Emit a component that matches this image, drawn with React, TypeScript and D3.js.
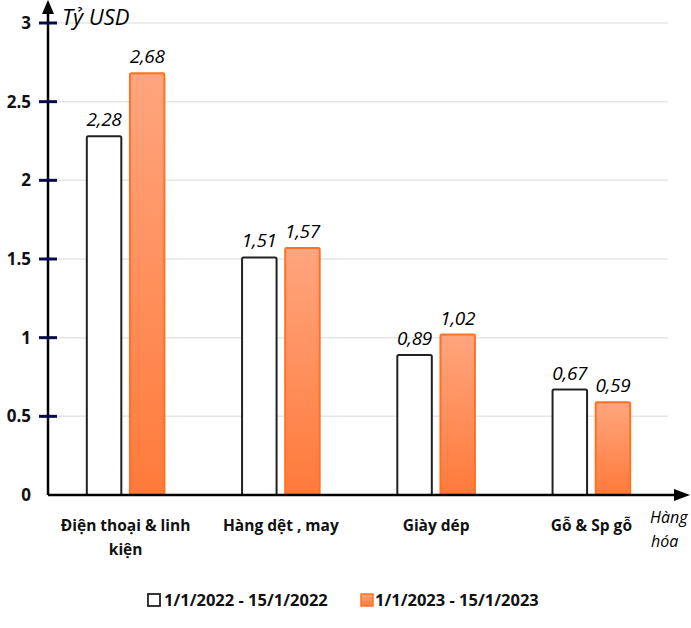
import React from "react";
import * as d3 from "d3";

const categories = ["Điện thoại & linh kiện", "Hàng dệt , may", "Giày dép", "Gỗ & Sp gỗ"];
const categoryLines = [["Điện thoại & linh", "kiện"], ["Hàng dệt , may"], ["Giày dép"], ["Gỗ & Sp gỗ"]];
const series2022 = [2.28, 1.51, 0.89, 0.67];
const series2023 = [2.68, 1.57, 1.02, 0.59];
const valueLabels2022 = ["2,28", "1,51", "0,89", "0,67"];
const valueLabels2023 = ["2,68", "1,57", "1,02", "0,59"];
const yTicks = [0, 0.5, 1, 1.5, 2, 2.5, 3];
const seriesNames = ["1/1/2022 - 15/1/2022", "1/1/2023 - 15/1/2023"];

export default function App() {
  const W = 691, H = 628;
  const x0 = 48, y0 = 495;
  const y = d3.scaleLinear().domain([0, 3]).range([495, 23]);
  const x = d3.scaleBand().domain(categories).range([48, 669]).paddingInner(0.5).paddingOuter(0.25);
  const sub = d3.scaleBand().domain(["a", "b"]).range([0, x.bandwidth()]).paddingInner(0.2);
  const bw = sub.bandwidth();
  const font = "'Open Sans', 'DejaVu Sans', sans-serif";
  return (
    <svg width={W} height={H} style={{ position: "absolute", left: 0, top: 0, background: "#fff" }}>
      <defs>
        <linearGradient id="og" x1="0" y1="0" x2="0" y2="1">
          <stop offset="0" stopColor="#FFA57E" />
          <stop offset="1" stopColor="#FF7A3A" />
        </linearGradient>
      </defs>
      {yTicks.filter(t => t > 0).map(t => (
        <line key={t} x1={x0} x2={668} y1={y(t)} y2={y(t)} stroke="#e6e6e6" strokeWidth={1.5} />
      ))}
      {categories.map((c, i) => {
        const bx = x(c)!;
        return (
          <g key={c}>
            <rect x={bx + sub("a")!} y={y(series2022[i])} width={bw} height={y0 - y(series2022[i])}
              fill="#fff" stroke="#222" strokeWidth={2} rx={1.5} />
            <rect x={bx + sub("b")!} y={y(series2023[i])} width={bw} height={y0 - y(series2023[i])}
              fill="url(#og)" stroke="#FF7225" strokeWidth={2} rx={1.5} />
            <text x={bx + sub("a")! + bw / 2} y={y(series2022[i]) - 10} textAnchor="middle"
              fontFamily={font} fontStyle="italic" fontSize={19} fill="#000" letterSpacing={-0.3}>{valueLabels2022[i]}</text>
            <text x={bx + sub("b")! + bw / 2} y={y(series2023[i]) - 10} textAnchor="middle"
              fontFamily={font} fontStyle="italic" fontSize={19} fill="#000" letterSpacing={-0.3}>{valueLabels2023[i]}</text>
            {categoryLines[i].map((ln, j) => (
              <text key={j} x={bx + x.bandwidth() / 2} y={531 + j * 24} textAnchor="middle"
                fontFamily={font} fontWeight="bold" fontSize={15.5} fill="#111">{ln}</text>
            ))}
          </g>
        );
      })}
      {/* axes */}
      <line x1={x0} x2={x0} y1={y0} y2={10} stroke="#000" strokeWidth={2.5} />
      <path d={`M${x0 - 6},14 L${x0},0 L${x0 + 6},14 Z`} fill="#000" />
      <line x1={x0} x2={676} y1={y0} y2={y0} stroke="#000" strokeWidth={2.5} />
      <path d={`M674,${y0 - 6} L690,${y0} L674,${y0 + 6} Z`} fill="#000" />
      {yTicks.map(t => (
        <g key={t}>
          {t > 0 && <line x1={39} x2={57} y1={y(t)} y2={y(t)} stroke="#0a0a4a" strokeWidth={3} />}
          <text x={31} y={y(t) + 6} textAnchor="end" fontFamily={font} fontWeight="bold" fontSize={17} fill="#111">{String(t)}</text>
        </g>
      ))}
      <text x={62} y={25} fontFamily={font} fontStyle="italic" fontSize={22} fill="#000">Tỷ USD</text>
      <text x={650} y={523} fontFamily={font} fontStyle="italic" fontSize={16} fill="#000">Hàng</text>
      <text x={651} y={547} fontFamily={font} fontStyle="italic" fontSize={16} fill="#000">hóa</text>
      {/* legend */}
      <rect x={148} y={594} width={12} height={12} fill="#fff" stroke="#222" strokeWidth={1.8} />
      <text x={164} y={606} fontFamily={font} fontWeight="bold" fontSize={16.5} fill="#111">{seriesNames[0]}</text>
      <rect x={361} y={594} width={12} height={12} fill="url(#og)" stroke="#FF7225" strokeWidth={1.5} />
      <text x={375} y={606} fontFamily={font} fontWeight="bold" fontSize={16.5} fill="#111">{seriesNames[1]}</text>
    </svg>
  );
}
